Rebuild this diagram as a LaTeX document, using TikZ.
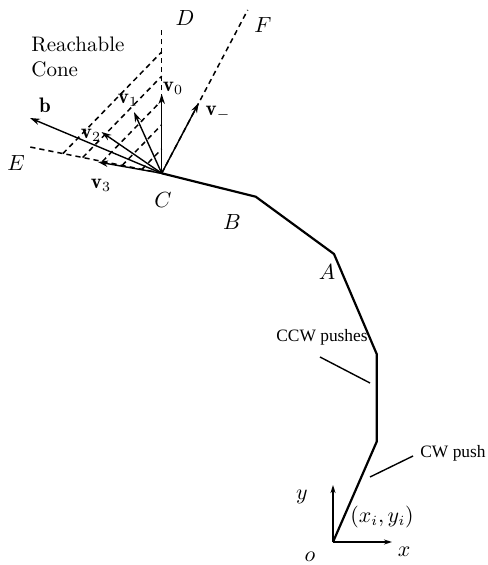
\documentclass[tikz,border=0pt]{standalone}
\usepackage{amsmath}
\usepackage{fontspec}
\usepackage{tikz}
\usetikzlibrary{arrows.meta,calc}
\newfontfamily\pushfont{Liberation Serif}
\tikzset{
  px/.style={x=0.5pt, y=-0.5pt, font=\fontsize{10.5}{12.5}\selectfont},
  r path/.style={line width=1.1pt, line join=miter},
  r dash/.style={line width=0.75pt, dash pattern=on 2.6pt off 2pt},
  r vec/.style={line width=0.7pt, -{Stealth[length=5pt, width=3.2pt]}},
  r axis/.style={line width=0.7pt, -{Stealth[length=4pt, width=2.5pt]}},
  r lead/.style={line width=0.7pt},
  r lbl/.style={inner sep=0pt},
  r push/.style={inner sep=0pt, font=\pushfont\fontsize{8.7}{10}\selectfont},
}
\begin{document}
\begin{tikzpicture}[px]
\useasboundingbox (0,0) rectangle (487,565);
% pusher path
\coordinate (o) at (333,542);
\coordinate (p1) at (376.7,441.7);
\coordinate (p2) at (376.7,354);
\coordinate (A) at (334,254);
\coordinate (B) at (255.7,196.7);
\coordinate (C) at (161.7,173.3);
\draw[r path] (o) -- (p1) -- (p2) -- (A) -- (B) -- (C);
% cone boundaries
\coordinate (Dend) at (161.7,27);
\coordinate (Fend) at (247.7,10);
\coordinate (Eend) at (30,147);
\draw[r dash] (C) -- (Dend);
\draw[r dash] (C) -- (Fend);
\draw[r dash] (C) -- (Eend);
% hatching of the reachable cone
\foreach \f in {1,0.8,0.6,0.4,0.2}
  \draw[r dash] ($(C)!0.75*\f!(Eend)$) -- ($(C)!0.83*\f!(Dend)$);
% velocities
\coordinate (bend) at (30,118);
\coordinate (v0end) at (161.7,94);
\coordinate (v1end) at (134,112);
\coordinate (v2end) at (101.5,132);
\coordinate (v3end) at (98,162);
\coordinate (vmend) at (198.7,103);
\draw[r vec] (C) -- (bend);
\draw[r vec] (C) -- (v0end);
\draw[r vec] (C) -- (v1end);
\draw[r vec] (C) -- (v2end);
\draw[r vec] (C) -- (v3end);
\draw[r vec] (C) -- (vmend);
% labels
\node[r lbl, align=left, anchor=north west] (cone) at (31,37) {Reachable\\Cone};
\node[r lbl] (Dl) at (185,18) {$D$};
\node[r lbl] (Fl) at (263,25) {$F$};
\node[r lbl] (El) at (16,163) {$E$};
\node[r lbl] (bl) at (45,105) {$\mathbf{b}$};
\node[r lbl] (v0l) at (173,88) {$\mathbf{v}_0$};
\node[r lbl] (v1l) at (128,100) {$\mathbf{v}_1$};
\node[r lbl] (v2l) at (91,135) {$\mathbf{v}_2$};
\node[r lbl] (v3l) at (101,185) {$\mathbf{v}_3$};
\node[r lbl] (vml) at (218,113) {$\mathbf{v}_{-}$};
\node[r lbl] (Cl) at (163,200) {$C$};
\node[r lbl] (Bl) at (232,222) {$B$};
\node[r lbl] (Al) at (327,272) {$A$};
% pushes
\node[r push] (ccw) at (322,337) {CCW pushes};
\node[r push] (cw) at (453,453) {CW push};
\coordinate (ccwa) at (320,357);
\coordinate (ccwb) at (370,383);
\coordinate (cwa) at (413,456);
\coordinate (cwb) at (370,477);
\draw[r lead] (ccwa) -- (ccwb);
\draw[r lead] (cwa) -- (cwb);
% frame
\coordinate (xend) at (392,542);
\coordinate (yend) at (333,485);
\draw[r axis] (o) -- (xend);
\draw[r axis] (o) -- (yend);
\node[r lbl] (xl) at (404,552) {$x$};
\node[r lbl] (yl) at (302,497) {$y$};
\node[r lbl] (ol) at (310,557) {$o$};
\node[r lbl] (xy) at (382,517) {$(x_i,y_i)$};
\end{tikzpicture}
\end{document}
